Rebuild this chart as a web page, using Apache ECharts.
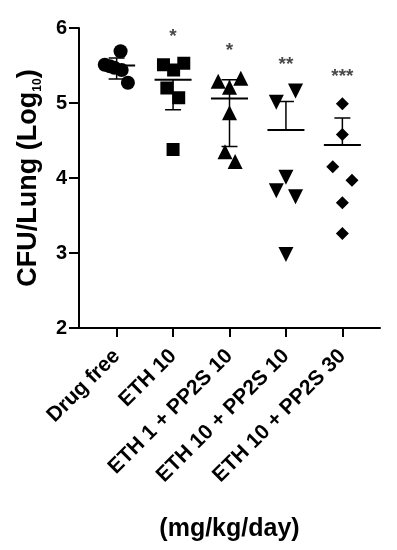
<!DOCTYPE html>
<html>
<head>
<meta charset="utf-8">
<script src="https://cdn.jsdelivr.net/npm/echarts@6/dist/echarts.min.js"></script>
<style>html,body{margin:0;padding:0;background:#fff}#c{width:397px;height:550px}</style>
</head>
<body>
<div id="c"></div>
<script>
const categories = ['Drug free', 'ETH 10', 'ETH 1 + PP2S 10', 'ETH 10 + PP2S 10', 'ETH 10 + PP2S 30'];
const yTicks = [2, 3, 4, 5, 6];
const g1 = [5.69, 5.51, 5.49, 5.47, 5.44, 5.27];
const j1 = [0.07, -0.21, -0.12, -0.04, 0.09, 0.20];
const g2 = [5.51, 5.53, 5.44, 5.20, 5.07, 4.38];
const j2 = [-0.17, 0.19, 0.01, -0.11, 0.10, 0.00];
const g3 = [5.29, 5.33, 5.21, 4.87, 4.35, 4.22];
const j3 = [-0.20, 0.20, 0.00, 0.00, -0.08, 0.10];
const g4 = [5.01, 5.16, 4.01, 3.83, 3.75, 2.98];
const j4 = [-0.17, 0.17, 0.00, -0.17, 0.17, 0.00];
const g5 = [4.99, 4.58, 4.15, 3.97, 3.67, 3.26];
const j5 = [0.00, 0.00, -0.17, 0.17, 0.00, 0.00];
const means = [5.50, 5.31, 5.06, 4.64, 4.44];
const upper = [5.60, null, 5.31, 5.02, 4.80];
const lower = [5.32, 4.91, 4.42, null, null];
const sig = ['', '*', '*', '**', '***'];
const sigY = [null, 5.95, 5.76, 5.57, 5.41];

const groups = [g1, g2, g3, g4, g5];
const jit = [j1, j2, j3, j4, j5];
const symbols = ['circle', 'rect', 'triangle', 'triangle', 'diamond'];
const sizes = [14, 13, 15, 15, 13];
const rots = [0, 0, 0, 180, 0];

const chart = echarts.init(document.getElementById('c'));
const FONT = 'Liberation Sans, Arial, sans-serif';

const scatterSeries = groups.map((g, gi) => ({
  type: 'scatter',
  symbol: symbols[gi],
  symbolSize: sizes[gi],
  symbolRotate: rots[gi],
  itemStyle: { color: '#000', opacity: 1 },
  data: g.map((v, k) => [gi + 1 + jit[gi][k], v]),
  z: 3,
  silent: true
}));

const errSeries = {
  type: 'custom',
  z: 4,
  silent: true,
  data: means.map((m, i) => [i + 1, m]),
  renderItem: function (params, api) {
    const i = params.dataIndex;
    const x = i + 1;
    const c = api.coord([x, means[i]]);
    const t = api.coord([x, upper[i] == null ? means[i] : upper[i]]);
    const b = api.coord([x, lower[i] == null ? means[i] : lower[i]]);
    const children = [
      { type: 'line', shape: { x1: c[0] - 18.5, y1: c[1], x2: c[0] + 18.5, y2: c[1] }, style: { stroke: '#000', lineWidth: 2 } },
      { type: 'line', shape: { x1: c[0], y1: t[1], x2: c[0], y2: b[1] }, style: { stroke: '#000', lineWidth: 1.5 } }
    ];
    if (upper[i] != null) children.push({ type: 'line', shape: { x1: c[0] - 8, y1: t[1], x2: c[0] + 8, y2: t[1] }, style: { stroke: '#000', lineWidth: 1.5 } });
    if (lower[i] != null) children.push({ type: 'line', shape: { x1: c[0] - 8, y1: b[1], x2: c[0] + 8, y2: b[1] }, style: { stroke: '#000', lineWidth: 1.5 } });
    return { type: 'group', children: children };
  }
};

const sigSeries = {
  type: 'scatter',
  symbolSize: 0,
  silent: true,
  z: 5,
  data: sig.map((s, i) => sigY[i] == null ? null : { value: [i + 1, sigY[i]], name: s }).filter(d => d),
  label: {
    show: true,
    position: 'inside',
    formatter: p => p.name,
    color: '#1a1a1a',
    fontFamily: FONT,
    fontWeight: 'bold',
    fontSize: 19,
    offset: [0, 5]
  }
};

chart.setOption({
  animation: false,
  backgroundColor: '#fff',
  grid: { left: 79, right: 17, top: 28, bottom: 222, containLabel: false },
  xAxis: {
    type: 'value',
    min: 1 / 3,
    max: 17 / 3,
    name: '(mg/kg/day)',
    nameLocation: 'middle',
    nameGap: 189,
    nameTextStyle: { fontFamily: FONT, fontWeight: 'bold', fontSize: 25, color: '#000' },
    splitLine: { show: false },
    axisLine: { show: true, onZero: false, lineStyle: { color: '#000', width: 2 } },
    axisTick: { show: true, length: 9, lineStyle: { color: '#000', width: 2 }, customValues: [1, 2, 3, 4, 5] },
    axisLabel: {
      customValues: [1, 2, 3, 4, 5],
      rotate: 45,
      margin: 25,
      formatter: v => categories[Math.round(v) - 1] || '',
      fontFamily: FONT, fontWeight: 'bold', fontSize: 21, color: '#000'
    }
  },
  yAxis: {
    type: 'value',
    min: 2,
    max: 6,
    interval: 1,
    name: '{a|CFU/Lung (Log}{b|10}{a|)}',
    nameLocation: 'middle',
    nameRotate: 90,
    nameGap: 35,
    nameTextStyle: {
      rich: {
        a: { fontFamily: FONT, fontWeight: 'bold', fontSize: 27, color: '#000', lineHeight: 30 },
        b: { fontFamily: FONT, fontWeight: 'bold', fontSize: 12, color: '#000', lineHeight: 16, verticalAlign: 'bottom' }
      }
    },
    splitLine: { show: false },
    axisLine: { show: true, lineStyle: { color: '#000', width: 2 } },
    axisTick: { show: true, length: 10, lineStyle: { color: '#000', width: 2 } },
    axisLabel: {
      margin: 12,
      formatter: v => yTicks.indexOf(v) >= 0 ? String(v) : '',
      fontFamily: FONT, fontWeight: 'bold', fontSize: 20, color: '#000'
    }
  },
  series: scatterSeries.concat([errSeries, sigSeries])
});
</script>
</body>
</html>
